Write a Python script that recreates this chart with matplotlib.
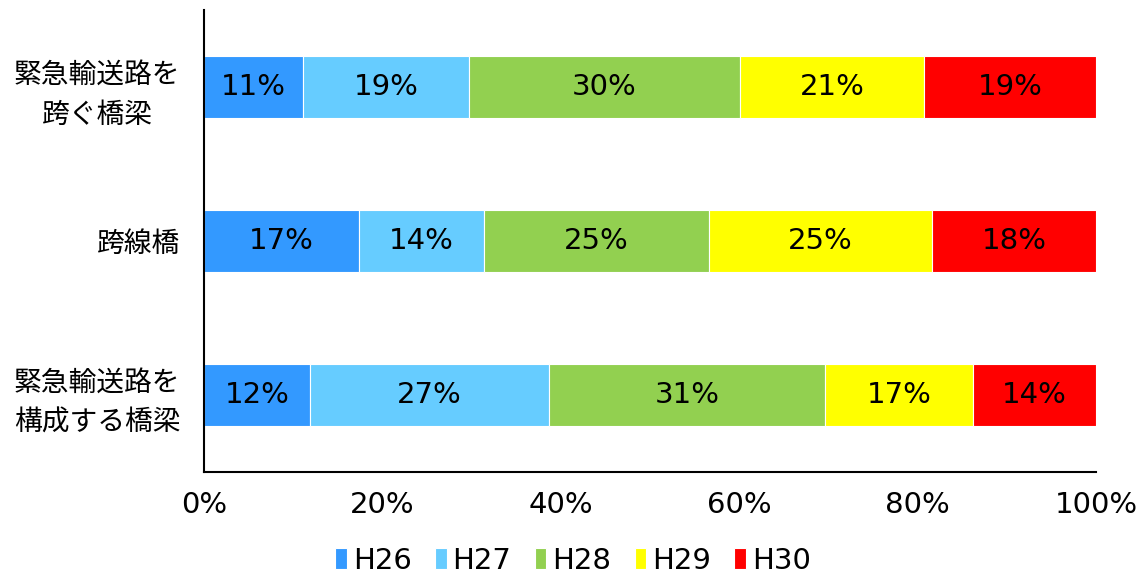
import matplotlib
matplotlib.use("Agg")
import matplotlib.pyplot as plt
import numpy as np

plt.rcParams['font.family'] = ['DejaVu Sans', 'Noto Sans CJK JP']

# データ（各年度の割合 %）
categories = ["緊急輸送路を\n跨ぐ橋梁", "跨線橋", "緊急輸送路を\n構成する橋梁"]
years = ["H26", "H27", "H28", "H29", "H30"]
shares = {
    "H26": [11.1, 17.4, 11.9],
    "H27": [18.6, 14.0, 26.8],
    "H28": [30.4, 25.2, 30.9],
    "H29": [20.6, 25.0, 16.6],
    "H30": [19.3, 18.4, 13.8],
}
colors = ["#3399FF", "#66CCFF", "#92D050", "#FFFF00", "#FF0000"]
xticks = [0, 20, 40, 60, 80, 100]

fig = plt.figure(figsize=(11.46, 5.81), dpi=100)
ax = fig.add_axes([0.178, 0.1876, 0.7784, 0.7954])

y = np.arange(len(categories))
left = np.zeros(len(categories))
for yr, c in zip(years, colors):
    vals = np.array(shares[yr])
    ax.barh(y, vals, left=left, height=0.4, color=c, edgecolor="white",
            linewidth=0.8, label=yr)
    for yi, l, v in zip(y, left, vals):
        ax.text(l + v / 2, yi, f"{v:.0f}%", ha="center", va="center",
                fontsize=21, color="black")
    left += vals

ax.set_xlim(0, 100)
ax.set_ylim(2.5, -0.5)
ax.set_yticks(y)
ax.set_yticklabels(categories, fontsize=20, linespacing=1.4,
                   family=['Noto Sans CJK JP', 'DejaVu Sans'])
for lbl in ax.get_yticklabels():
    lbl.set_multialignment("center")
ax.set_xticks(xticks)
ax.set_xticklabels([f"{t}%" for t in xticks], fontsize=21)
ax.tick_params(axis="both", length=0)
ax.tick_params(axis="y", pad=17)
ax.tick_params(axis="x", pad=14)

for s in ["top", "right"]:
    ax.spines[s].set_visible(False)
ax.spines["left"].set_linewidth(1.5)
ax.spines["bottom"].set_linewidth(1.5)

handles, labels = ax.get_legend_handles_labels()
fig.legend(handles, labels, loc="center", bbox_to_anchor=(0.5, 0.035), ncol=5,
           frameon=False, fontsize=21, handlelength=0.4, handleheight=0.7,
           handletextpad=0.2, columnspacing=0.8)

fig.savefig("out.png", dpi=100)
